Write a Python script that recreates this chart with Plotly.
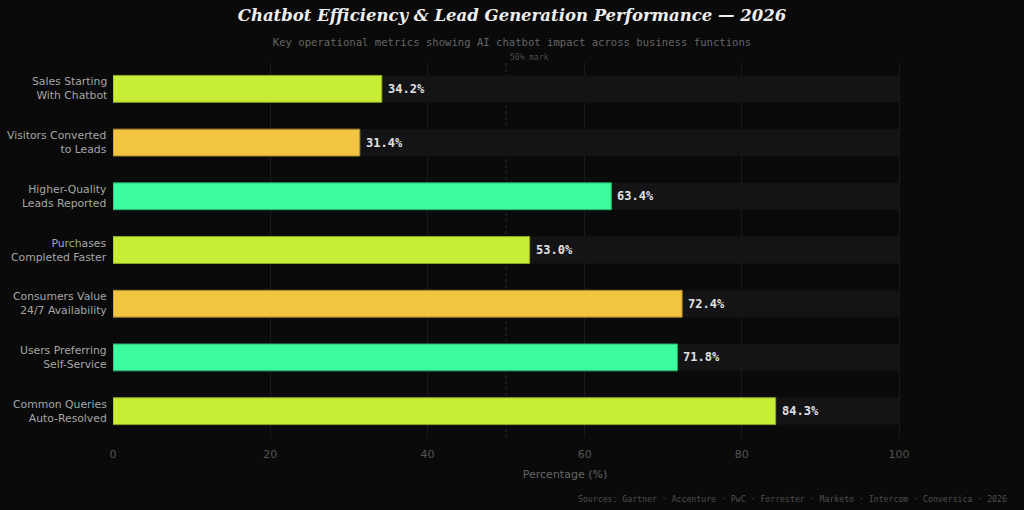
import plotly.graph_objects as go

# data
metrics = [
    "Sales Starting<br>With Chatbot",
    "Visitors Converted<br>to Leads",
    "Higher-Quality<br>Leads Reported",
    "Purchases<br>Completed Faster",
    "Consumers Value<br>24/7 Availability",
    "Users Preferring<br>Self-Service",
    "Common Queries<br>Auto-Resolved",
]
values = [34.2, 31.4, 63.4, 53.0, 72.4, 71.8, 84.3]
track = [100] * len(metrics)
xticks = [0, 20, 40, 60, 80, 100]

palette = ["#c8ed37", "#f2c442", "#3dfc9d"]
outline = ["#8fa826", "#a8852c", "#2aae6d"]
colors = [palette[i % 3] for i in range(len(metrics))]
edges = [outline[i % 3] for i in range(len(metrics))]

mono = "DejaVu Sans Mono"

fig = go.Figure()
fig.add_trace(go.Bar(
    y=metrics, x=track, orientation="h", width=0.5,
    marker=dict(color="#141416", line=dict(width=0)),
    hoverinfo="skip", showlegend=False,
))
fig.add_trace(go.Bar(
    y=metrics, x=values, orientation="h", width=0.5,
    marker=dict(color=colors, line=dict(color=edges, width=1)),
    showlegend=False,
))

for m, v in zip(metrics, values):
    fig.add_annotation(
        x=v, y=m, text=f"<b>{v:.1f}%</b>", showarrow=False,
        xanchor="left", xshift=4,
        font=dict(family=mono, size=12, color="#e2e2e2"),
    )
    # category labels, right aligned line by line
    fig.add_annotation(
        x=0, y=m, xref="paper", text=m, showarrow=False,
        xanchor="right", align="right", xshift=-4,
        font=dict(family="DejaVu Sans", size=10.8, color="#a6a6a6"),
    )

# 50% reference
fig.add_shape(type="line", x0=50, x1=50, y0=0, y1=1, xref="x", yref="paper",
              line=dict(color="#2e2e2e", width=1, dash="dot"), layer="below")
fig.add_annotation(x=50, y=1, xref="x", yref="paper", text="50% mark",
                   showarrow=False, xanchor="left", yanchor="bottom", xshift=2, yshift=-2,
                   font=dict(family=mono, size=8, color="#4a4a4a"))

fig.add_annotation(x=1, y=0, xref="paper", yref="paper", xanchor="right", yanchor="top",
                   text="Sources: Gartner · Accenture · PwC · Forrester · Marketo · Intercom · Conversica · 2026",
                   showarrow=False, xshift=-8, yshift=-54,
                   font=dict(family=mono, size=8.2, color="#4f4f4f"))

fig.update_layout(
    width=1024, height=510,
    paper_bgcolor="#0a0a0a", plot_bgcolor="#0a0a0a",
    barmode="overlay",
    margin=dict(l=113, r=7, t=62, b=72),
    title=dict(
        text="<b><i>Chatbot Efficiency &amp; Lead Generation Performance — 2026</i></b>",
        x=0.5, xref="container", xanchor="center", y=0.97, yanchor="middle",
        font=dict(family="DejaVu Serif", size=16.5, color="#eeeeee"),
        subtitle=dict(
            text="Key operational metrics showing AI chatbot impact across business functions",
            font=dict(family=mono, size=10.6, color="#666666"),
        ),
    ),
    xaxis=dict(
        range=[0, 115], tickvals=xticks, showgrid=True, gridcolor="#1a1a1a", gridwidth=1,
        zeroline=False, showline=False, ticklabelstandoff=8,
        tickfont=dict(family="DejaVu Sans", size=11, color="#555555"),
        title=dict(text="Percentage (%)", font=dict(family="DejaVu Sans", size=11, color="#666666"),
                   standoff=10),
    ),
    yaxis=dict(
        autorange="reversed", showgrid=False, zeroline=False, showline=False,
        ticks="", showticklabels=False,
    ),
)

fig.write_html("out.html", config={"displayModeBar": False},
               post_script="document.body.style.margin='0';document.body.style.padding='0';")
